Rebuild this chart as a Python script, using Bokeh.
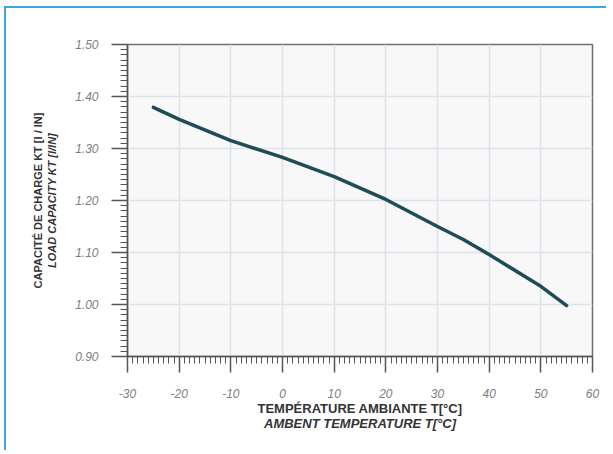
import math
from bokeh.plotting import figure
from bokeh.models import NumeralTickFormatter, FixedTicker, Range1d, LinearAxis
from bokeh.embed import file_html
from bokeh.resources import INLINE

# Data
temperature = [-25, -20, -10, 0, 10, 20, 30, 35, 40, 50, 55]
load_capacity = [1.379, 1.356, 1.315, 1.283, 1.246, 1.202, 1.150, 1.125, 1.096, 1.035, 0.998]

x_ticks = [-30, -20, -10, 0, 10, 20, 30, 40, 50, 60]
y_ticks = [0.90, 1.00, 1.10, 1.20, 1.30, 1.40, 1.50]

x_title_fr = "TEMPÉRATURE AMBIANTE T[°C]"
x_title_en = "AMBENT TEMPERATURE T[°C]"
y_title_fr = "CAPACITÉ DE CHARGE KT [I / IN]"
y_title_en = "LOAD CAPACITY KT [I/IN]"

p = figure(width=602, height=444, output_backend="svg", toolbar_location=None,
           x_range=Range1d(-30, 60), y_range=Range1d(0.90, 1.50),
           min_border_left=121, min_border_right=16, min_border_top=36, min_border_bottom=96)

p.background_fill_color = "#f8f8f8"
p.border_fill_color = "white"
p.outline_line_color = "#6f6f6f"
p.outline_line_width = 1.5

for g in (p.xgrid[0], p.ygrid[0]):
    g.grid_line_color = "#dde3ea"
    g.grid_line_width = 1.5

p.xaxis.ticker = FixedTicker(ticks=x_ticks, minor_ticks=list(range(-30, 61)))
p.yaxis.ticker = FixedTicker(ticks=y_ticks, minor_ticks=[round(0.90 + i * 0.01, 2) for i in range(61)])
p.xaxis.formatter = NumeralTickFormatter(format="0")
p.yaxis.formatter = NumeralTickFormatter(format="0.00")

for ax in (p.xaxis[0], p.yaxis[0]):
    ax.axis_line_color = "#555555"
    ax.axis_line_width = 1.5
    ax.major_tick_line_color = "#555555"
    ax.major_tick_line_width = 1.5
    ax.major_tick_out = 16
    ax.major_tick_in = 0
    ax.minor_tick_line_color = "#555555"
    ax.minor_tick_line_width = 1
    ax.minor_tick_out = 7
    ax.minor_tick_in = 0
    ax.major_label_text_font = "Liberation Sans"
    ax.major_label_text_font_style = "italic"
    ax.major_label_text_color = "#808080"
    ax.major_label_text_font_size = "12px"
    ax.axis_label_text_font = "Liberation Sans"
    ax.axis_label_text_color = "#333333"

p.xaxis[0].major_label_standoff = 16
p.yaxis[0].major_label_standoff = 13

# x axis titles (two lines, second one on an extra axis)
p.xaxis[0].axis_label = x_title_fr
p.xaxis[0].axis_label_text_font_style = "bold"
p.xaxis[0].axis_label_text_font_size = "13px"
p.xaxis[0].axis_label_standoff = 0

x_extra = LinearAxis(ticker=FixedTicker(ticks=[]), axis_label=x_title_en,
                     axis_line_color=None, major_tick_line_color=None, minor_tick_line_color=None,
                     axis_label_text_font="Liberation Sans", axis_label_text_font_style="bold italic",
                     axis_label_text_font_size="13px", axis_label_text_color="#333333",
                     axis_label_standoff=-3, major_label_standoff=0)
p.add_layout(x_extra, "below")

# y axis titles
p.yaxis[0].axis_label = y_title_en
p.yaxis[0].axis_label_text_font_style = "bold italic"
p.yaxis[0].axis_label_text_font_size = "11px"
p.yaxis[0].axis_label_standoff = 14

y_extra = LinearAxis(ticker=FixedTicker(ticks=[]), axis_label=y_title_fr,
                     axis_line_color=None, major_tick_line_color=None, minor_tick_line_color=None,
                     axis_label_text_font="Liberation Sans", axis_label_text_font_style="bold",
                     axis_label_text_font_size="11px", axis_label_text_color="#333333",
                     axis_label_standoff=0, major_label_standoff=0)
p.add_layout(y_extra, "left")

p.line(temperature, load_capacity, line_color="#1e4d58", line_width=3.5, line_cap="round")

p.styles = {"border-left": "2px solid #3fa6dd", "border-top": "2px solid #3fa6dd",
            "margin-left": "4px", "margin-top": "6px"}

open("out.html", "w").write(file_html(p, INLINE))
